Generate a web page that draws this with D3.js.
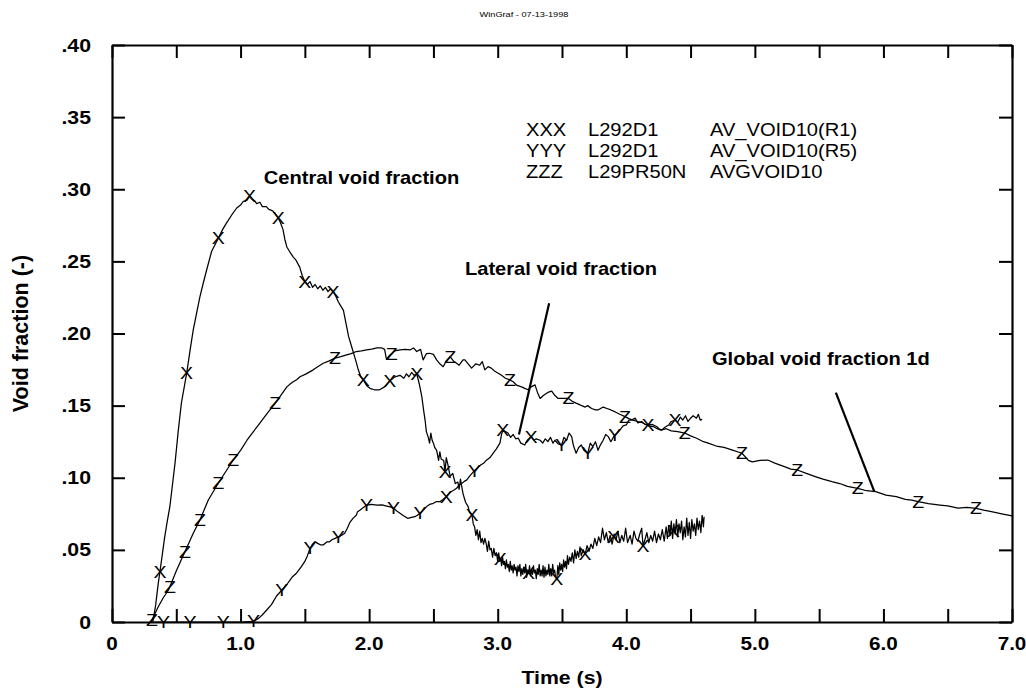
<!DOCTYPE html>
<html>
<head>
<meta charset="utf-8">
<script src="https://cdn.jsdelivr.net/npm/d3@7/dist/d3.min.js"></script>
<style>
  html, body { margin: 0; padding: 0; background: #fff; }
  svg { display: block; }
  text { font-family: "Liberation Sans", Arial, Helvetica, sans-serif; fill: #000; }
</style>
</head>
<body>
<svg id="chart" width="1026" height="689"></svg>
<script>
// ---- data: void fraction histories (time s, void fraction -) ----
const central = [
  [0.30,0],[0.32,0.001],[0.34,0.012],[0.36,0.027],[0.373,0.035],[0.39,0.046],[0.41,0.059],[0.43,0.070],
  [0.45,0.080],[0.47,0.095],[0.49,0.110],[0.516,0.133],[0.54,0.152],[0.57,0.167],[0.585,0.175],[0.61,0.190],
  [0.632,0.2025],[0.66,0.215],[0.684,0.2256],[0.71,0.235],[0.736,0.244],[0.775,0.257],[0.827,0.266],[0.86,0.272],
  [0.89,0.2765],[0.93,0.282],[0.97,0.287],[1.00,0.289],[1.02,0.2915],[1.05,0.2925],[1.07,0.295],[1.09,0.293],
  [1.11,0.292],[1.125,0.290],[1.15,0.291],[1.17,0.288],[1.20,0.288],[1.22,0.286],[1.25,0.285],[1.27,0.283],
  [1.293,0.280],[1.31,0.277],[1.33,0.272],[1.345,0.265],[1.36,0.260],[1.38,0.257],[1.41,0.253],[1.43,0.251],
  [1.46,0.246],[1.48,0.240],[1.50,0.236],[1.52,0.234],[1.54,0.236],[1.56,0.232],[1.58,0.234],[1.60,0.231],
  [1.62,0.233],[1.64,0.230],[1.66,0.232],[1.68,0.229],[1.70,0.231],[1.72,0.229],[1.74,0.226],[1.76,0.222],
  [1.78,0.219],[1.80,0.216],[1.82,0.207],[1.84,0.198],[1.86,0.192],[1.88,0.186],[1.90,0.180],[1.915,0.175],
  [1.935,0.170],[1.954,0.168],[1.98,0.164],[2.006,0.162],[2.04,0.161],[2.08,0.161],[2.12,0.163],[2.16,0.167],
  [2.20,0.170],[2.24,0.171],[2.27,0.169],[2.29,0.172],[2.31,0.170],[2.33,0.173],[2.35,0.171],[2.37,0.172],
  [2.39,0.165],[2.41,0.156],[2.425,0.146],[2.435,0.140],[2.445,0.132],[2.46,0.128],[2.47,0.124],[2.48,0.131],
  [2.49,0.126],[2.50,0.124],[2.51,0.121],[2.525,0.119],[2.54,0.112],[2.55,0.118],[2.56,0.113],[2.58,0.112],
  [2.59,0.104],[2.60,0.114],[2.615,0.108],[2.63,0.101],[2.65,0.103],[2.67,0.096],[2.69,0.097],[2.70,0.092],
  [2.71,0.099],[2.73,0.089],[2.75,0.083],[2.77,0.080],[2.78,0.076],[2.80,0.074],[2.81,0.068],[2.82,0.066],
  [2.83,0.060],[2.84,0.064],[2.85,0.057],[2.86,0.063],[2.87,0.055],[2.88,0.058],[2.89,0.054],[2.90,0.058],
  [2.91,0.0546],[2.92,0.049],[2.93,0.056],[2.94,0.050],[2.95,0.051],[2.96,0.045],[2.97,0.051],[2.98,0.046],
  [2.99,0.048],[3.00,0.042],[3.0075,0.048],[3.015,0.042],[3.0225,0.044],[3.03,0.039],[3.0375,0.045],[3.045,0.040],
  [3.0525,0.042],[3.06,0.037],[3.0675,0.043],[3.075,0.038],[3.0825,0.040],[3.09,0.035],[3.0975,0.042],[3.105,0.036],
  [3.1125,0.039],[3.12,0.034],[3.1275,0.040],[3.135,0.036],[3.1425,0.038],[3.15,0.032],[3.1575,0.039],[3.165,0.035],
  [3.1725,0.040],[3.18,0.032],[3.1875,0.037],[3.195,0.033],[3.2025,0.038],[3.21,0.034],[3.2175,0.040],[3.225,0.031],
  [3.2325,0.036],[3.24,0.034],[3.2475,0.039],[3.255,0.032],[3.2625,0.036],[3.27,0.033],[3.2775,0.039],[3.285,0.034],
  [3.2925,0.036],[3.30,0.030],[3.3075,0.037],[3.315,0.033],[3.3225,0.040],[3.33,0.032],[3.3375,0.036],[3.345,0.032],
  [3.3525,0.039],[3.36,0.031],[3.3675,0.038],[3.375,0.032],[3.3825,0.036],[3.39,0.033],[3.3975,0.040],[3.405,0.032],
  [3.4125,0.037],[3.42,0.032],[3.4275,0.040],[3.435,0.034],[3.4425,0.036],[3.45,0.031],[3.46,0.030],[3.4675,0.039],
  [3.475,0.033],[3.4825,0.041],[3.49,0.036],[3.4975,0.040],[3.505,0.035],[3.5125,0.043],[3.52,0.038],[3.5275,0.042],
  [3.535,0.037],[3.5425,0.046],[3.55,0.040],[3.56,0.045],[3.57,0.042],[3.58,0.048],[3.59,0.041],[3.60,0.050],
  [3.61,0.044],[3.62,0.049],[3.63,0.045],[3.64,0.052],[3.65,0.046],[3.665,0.050],[3.68,0.047],[3.695,0.053],
  [3.71,0.049],[3.725,0.054],[3.74,0.051],[3.755,0.058],[3.77,0.053],[3.785,0.059],[3.80,0.055],[3.815,0.065],
  [3.83,0.057],[3.845,0.062],[3.86,0.055],[3.875,0.060],[3.89,0.054],[3.905,0.061],[3.92,0.057],[3.935,0.063],
  [3.95,0.055],[3.965,0.060],[3.98,0.056],[3.995,0.065],[4.01,0.055],[4.03,0.060],[4.045,0.054],[4.06,0.063],
  [4.075,0.058],[4.09,0.056],[4.105,0.061],[4.12,0.065],[4.13,0.053],[4.145,0.057],[4.16,0.062],[4.175,0.055],
  [4.19,0.060],[4.205,0.056],[4.22,0.063],[4.235,0.055],[4.25,0.061],[4.265,0.057],[4.28,0.064],[4.295,0.056],
  [4.31,0.066],[4.32,0.058],[4.33,0.067],[4.34,0.060],[4.35,0.070],[4.36,0.058],[4.37,0.068],[4.38,0.061],
  [4.39,0.071],[4.40,0.059],[4.41,0.068],[4.42,0.062],[4.43,0.070],[4.44,0.057],[4.45,0.066],[4.46,0.059],
  [4.47,0.072],[4.48,0.060],[4.49,0.069],[4.50,0.058],[4.51,0.071],[4.52,0.063],[4.53,0.068],[4.54,0.060],
  [4.55,0.072],[4.56,0.064],[4.57,0.070],[4.58,0.062],[4.59,0.074],[4.60,0.066],[4.605,0.073]
];

const lateral = [
  [0.30,0],[0.50,0],[0.80,0],[1.00,0],[1.10,0.0005],[1.14,0.0025],[1.17,0.005],[1.20,0.008],[1.24,0.012],
  [1.28,0.018],[1.32,0.022],[1.36,0.026],[1.40,0.031],[1.436,0.034],[1.47,0.038],[1.50,0.042],[1.52,0.046],
  [1.54,0.051],[1.56,0.054],[1.578,0.0557],[1.60,0.0545],[1.62,0.0535],[1.643,0.0534],[1.67,0.0555],[1.69,0.0555],
  [1.71,0.057],[1.735,0.058],[1.76,0.059],[1.785,0.060],[1.81,0.0615],[1.83,0.065],[1.85,0.069],[1.876,0.072],
  [1.90,0.074],[1.91,0.0765],[1.93,0.0777],[1.95,0.079],[1.98,0.081],[2.02,0.0815],[2.06,0.081],[2.10,0.0812],
  [2.136,0.0804],[2.165,0.0798],[2.19,0.0788],[2.215,0.077],[2.24,0.0754],[2.27,0.0735],[2.30,0.0719],[2.33,0.0725],
  [2.356,0.073],[2.375,0.074],[2.395,0.0754],[2.42,0.0775],[2.447,0.080],[2.47,0.0815],[2.50,0.0823],[2.525,0.0835],
  [2.55,0.0834],[2.575,0.085],[2.60,0.0869],[2.62,0.089],[2.64,0.0905],[2.66,0.0915],[2.68,0.0927],[2.70,0.095],
  [2.72,0.096],[2.74,0.0975],[2.76,0.0985],[2.78,0.101],[2.80,0.103],[2.82,0.105],[2.845,0.107],[2.87,0.109],
  [2.89,0.110],[2.91,0.112],[2.94,0.114],[2.965,0.117],[2.99,0.120],[3.017,0.124],[3.03,0.130],[3.04,0.133],
  [3.06,0.132],[3.08,0.131],[3.10,0.128],[3.12,0.130],[3.14,0.127],[3.16,0.1274],[3.18,0.124],[3.21,0.1227],
  [3.23,0.126],[3.26,0.1285],[3.28,0.126],[3.30,0.127],[3.33,0.126],[3.35,0.124],[3.37,0.127],[3.39,0.125],
  [3.41,0.128],[3.43,0.124],[3.445,0.126],[3.47,0.1235],[3.497,0.1227],[3.515,0.128],[3.536,0.126],[3.555,0.131],
  [3.575,0.1285],[3.59,0.122],[3.61,0.117],[3.63,0.121],[3.65,0.1227],[3.67,0.119],[3.70,0.117],[3.72,0.124],
  [3.74,0.1216],[3.76,0.125],[3.78,0.119],[3.80,0.123],[3.82,0.126],[3.84,0.130],[3.86,0.1285],[3.88,0.125],
  [3.91,0.1297],[3.93,0.131],[3.95,0.133],[3.975,0.136],[4.00,0.1366],[4.02,0.140],[4.04,0.140],[4.07,0.1413],
  [4.09,0.138],[4.12,0.139],[4.145,0.137],[4.17,0.1366],[4.20,0.137],[4.235,0.1355],[4.255,0.134],[4.275,0.133],
  [4.30,0.135],[4.33,0.1366],[4.35,0.139],[4.38,0.140],[4.40,0.1385],[4.42,0.142],[4.44,0.140],[4.46,0.143],
  [4.48,0.139],[4.50,0.1413],[4.52,0.143],[4.546,0.1413],[4.56,0.144],[4.575,0.140],[4.59,0.1405]
];

const global1d = [
  [0.30,0],[0.31,0.0014],[0.36,0.0106],[0.40,0.017],[0.438,0.022],[0.45,0.0245],[0.503,0.036],[0.568,0.0488],
  [0.632,0.0615],[0.684,0.0707],[0.749,0.0846],[0.827,0.0962],[0.89,0.105],[0.943,0.1123],[1.00,0.119],[1.05,0.126],
  [1.10,0.132],[1.15,0.1378],[1.21,0.145],[1.27,0.1517],[1.32,0.158],[1.36,0.163],[1.40,0.166],[1.436,0.168],
  [1.462,0.170],[1.51,0.172],[1.565,0.1748],[1.60,0.177],[1.643,0.1794],[1.69,0.181],[1.734,0.1829],[1.78,0.184],
  [1.825,0.1852],[1.86,0.186],[1.90,0.1875],[1.94,0.188],[1.98,0.1886],[2.02,0.1892],[2.06,0.190],[2.10,0.190],
  [2.12,0.189],[2.135,0.182],[2.16,0.185],[2.175,0.186],[2.20,0.188],[2.24,0.1886],[2.28,0.189],[2.317,0.1886],
  [2.345,0.190],[2.37,0.1875],[2.40,0.189],[2.42,0.1817],[2.445,0.186],[2.47,0.1863],[2.50,0.1855],[2.525,0.1817],
  [2.55,0.179],[2.576,0.177],[2.60,0.181],[2.63,0.184],[2.655,0.181],[2.68,0.1794],[2.70,0.178],[2.73,0.1817],
  [2.745,0.1817],[2.77,0.179],[2.797,0.176],[2.83,0.179],[2.86,0.178],[2.88,0.1805],[2.90,0.1748],[2.925,0.177],
  [2.95,0.176],[2.975,0.174],[3.004,0.1725],[3.03,0.171],[3.06,0.169],[3.095,0.1678],[3.12,0.1665],[3.15,0.164],
  [3.186,0.163],[3.21,0.162],[3.237,0.161],[3.26,0.163],[3.29,0.1644],[3.31,0.159],[3.33,0.155],[3.355,0.157],
  [3.38,0.1586],[3.40,0.1595],[3.42,0.160],[3.445,0.157],[3.47,0.155],[3.50,0.155],[3.55,0.155],[3.58,0.153],
  [3.61,0.1517],[3.64,0.1505],[3.68,0.149],[3.70,0.150],[3.73,0.148],[3.76,0.147],[3.78,0.147],[3.82,0.149],
  [3.85,0.148],[3.88,0.147],[3.91,0.1458],[3.95,0.144],[3.99,0.1424],[4.02,0.141],[4.05,0.140],[4.09,0.139],
  [4.13,0.138],[4.17,0.136],[4.21,0.1355],[4.24,0.134],[4.27,0.133],[4.31,0.134],[4.35,0.1325],[4.40,0.132],
  [4.455,0.131],[4.50,0.129],[4.547,0.1274],[4.60,0.125],[4.637,0.124],[4.70,0.122],[4.76,0.121],[4.82,0.1193],
  [4.90,0.117],[4.95,0.112],[4.98,0.111],[5.04,0.112],[5.10,0.1123],[5.16,0.110],[5.23,0.1077],[5.28,0.106],
  [5.33,0.1054],[5.40,0.103],[5.47,0.1008],[5.53,0.099],[5.60,0.0973],[5.66,0.096],[5.72,0.094],[5.80,0.0927],
  [5.87,0.091],[5.94,0.0904],[6.02,0.088],[6.10,0.0869],[6.17,0.085],[6.22,0.0845],[6.27,0.0834],[6.35,0.082],
  [6.44,0.0811],[6.50,0.0805],[6.58,0.079],[6.65,0.0795],[6.72,0.0788],[6.78,0.0775],[6.84,0.0765],[6.92,0.075],
  [7.00,0.0735]
];

// symbol marks along each curve: [time, glyph]
const centralMarks = [
  [0.373,"X"],[0.58,"X"],[0.827,"X"],[1.07,"X"],[1.293,"X"],[1.50,"X"],[1.72,"X"],[1.954,"X"],[2.16,"X"],
  [2.37,"X"],[2.59,"X"],[2.80,"X"],[3.02,"X"],[3.24,"X"],[3.46,"X"],[3.68,"X"],[3.90,"X"],[4.13,"X"],[4.365,"X"]
];
const lateralMarks = [
  [0.40,"Y"],[0.607,"Y"],[0.866,"Y"],[1.10,"Y"],[1.32,"Y"],[1.54,"Y"],[1.76,"Y"],[1.98,"Y"],[2.19,"Y"],
  [2.395,"Y"],[2.60,"X"],[2.82,"Y"],[3.04,"X"],[3.26,"X"],[3.497,"Y"],[3.70,"Y"],[3.91,"Y"],[4.17,"X"],[4.38,"X"]
];
const globalMarks = [
  [0.31,"Z"],[0.45,"Z"],[0.568,"Z"],[0.684,"Z"],[0.827,"Z"],[0.943,"Z"],[1.27,"Z"],[1.734,"Z"],[2.175,"Z"],
  [2.63,"Z"],[3.095,"Z"],[3.55,"Z"],[3.99,"Z"],[4.455,"Z"],[4.90,"Z"],[5.33,"Z"],[5.80,"Z"],[6.27,"Z"],[6.72,"Z"]
];

// axis ticks and labels
const xTicks = [0,0.5,1,1.5,2,2.5,3,3.5,4,4.5,5,5.5,6,6.5,7];
const xTickLabels = {0:"0",1:"1.0",2:"2.0",3:"3.0",4:"4.0",5:"5.0",6:"6.0",7:"7.0"};
const yTicks = [0,0.05,0.10,0.15,0.20,0.25,0.30,0.35,0.40];
const yTickLabels = ["0",".05",".10",".15",".20",".25",".30",".35",".40"];

// legend rows and annotations
const legendRows = [
  ["XXX","L292D1","AV_VOID10(R1)"],
  ["YYY","L292D1","AV_VOID10(R5)"],
  ["ZZZ","L29PR50N","AVGVOID10"]
];
const titleText = "WinGraf  - 07-13-1998";
const xTitle = "Time (s)";
const yTitle = "Void fraction (-)";
// label text, anchor (time, value)
const notes = [
  ["Central void fraction", 1.18, 0.3035],
  ["Lateral void fraction", 2.745, 0.2405],
  ["Global void fraction 1d", 4.666, 0.1785]
];
// pointer segments: [t0, v0, t1, v1]
const pointers = [
  [3.40, 0.221, 3.165, 0.130],
  [5.63, 0.159, 5.93, 0.0902]
];

// ---- layout ----
const L = 112, R = 1012, T = 45, B = 622;
const SX = 1.15;          // horizontal stretch of lettering
const TICK = 13;

const svg = d3.select("#chart");
const x = d3.scaleLinear().domain([0, 7]).range([L, R]);
const y = d3.scaleLinear().domain([0, 0.4]).range([B, T]);

function label(g, px, py, s, size, weight, anchor) {
  return g.append("text")
    .attr("transform", `translate(${px},${py}) scale(${SX},1)`)
    .attr("font-size", size)
    .attr("font-weight", weight || "normal")
    .attr("text-anchor", anchor || "start")
    .text(s);
}

// axes with inward ticks on all four sides
function styleAxis(g) {
  g.select(".domain").attr("stroke", "#000").attr("stroke-width", 2.2);
  g.selectAll(".tick line").attr("stroke", "#000").attr("stroke-width", 2);
}
svg.append("g").attr("transform", `translate(0,${B})`)
  .call(d3.axisBottom(x).tickValues(xTicks).tickSizeInner(-TICK).tickSizeOuter(0).tickFormat(""))
  .call(styleAxis);
svg.append("g").attr("transform", `translate(0,${T})`)
  .call(d3.axisTop(x).tickValues(xTicks).tickSizeInner(-TICK).tickSizeOuter(0).tickFormat(""))
  .call(styleAxis);
svg.append("g").attr("transform", `translate(${L},0)`)
  .call(d3.axisLeft(y).tickValues(yTicks).tickSizeInner(-TICK).tickSizeOuter(0).tickFormat(""))
  .call(styleAxis);
svg.append("g").attr("transform", `translate(${R},0)`)
  .call(d3.axisRight(y).tickValues(yTicks).tickSizeInner(-TICK).tickSizeOuter(0).tickFormat(""))
  .call(styleAxis);

// tick labels
const tl = svg.append("g");
xTicks.filter(t => xTickLabels[t] !== undefined).forEach(t => {
  label(tl, x(t), B + 28, xTickLabels[t], 18, "bold", "middle");
});
yTicks.forEach((v, i) => {
  label(tl, L - 21, y(v) + 6.5, yTickLabels[i], 18.5, "bold", "end");
});

// axis titles and header
label(svg, (L + R) / 2, 684, xTitle, 18.5, "bold", "middle");
svg.append("text")
  .attr("transform", `translate(28,${(T + B) / 2}) rotate(-90)`)
  .attr("font-size", 21.5).attr("font-weight", "bold").attr("text-anchor", "middle")
  .text(yTitle);
label(svg, 524, 17, titleText, 8, "normal", "middle");

// curves
const line = d3.line().x(d => x(d[0])).y(d => y(d[1]));
const curves = [central, lateral, global1d];
svg.append("g").selectAll("path").data(curves).join("path")
  .attr("d", line).attr("fill", "none").attr("stroke", "#000")
  .attr("stroke-width", 1.25).attr("stroke-linejoin", "round");

// symbol marks placed on their curve
const bis = d3.bisector(d => d[0]).left;
function valueAt(series, t) {
  const i = Math.min(Math.max(bis(series, t), 1), series.length - 1);
  const a = series[i - 1], b = series[i];
  const f = (t - a[0]) / (b[0] - a[0]);
  return a[1] + f * (b[1] - a[1]);
}
const mg = svg.append("g");
[[central, centralMarks], [lateral, lateralMarks], [global1d, globalMarks]].forEach(([s, marks]) => {
  marks.forEach(([t, g]) => {
    label(mg, x(t), y(valueAt(s, t)) + 6, g, 17, "normal", "middle");
  });
});

// legend
const lg = svg.append("g");
const legendCols = [526, 588, 710];
legendRows.forEach((row, r) => {
  row.forEach((s, c) => label(lg, legendCols[c], 136 + r * 21, s, 17.5, "normal", "start"));
});

// annotations and pointers
const ng = svg.append("g");
notes.forEach(([s, t, v]) => label(ng, x(t), y(v), s, 17.5, "bold", "start"));
ng.selectAll("line").data(pointers).join("line")
  .attr("x1", d => x(d[0])).attr("y1", d => y(d[1]))
  .attr("x2", d => x(d[2])).attr("y2", d => y(d[3]))
  .attr("stroke", "#000").attr("stroke-width", 2.2);
</script>
</body>
</html>
